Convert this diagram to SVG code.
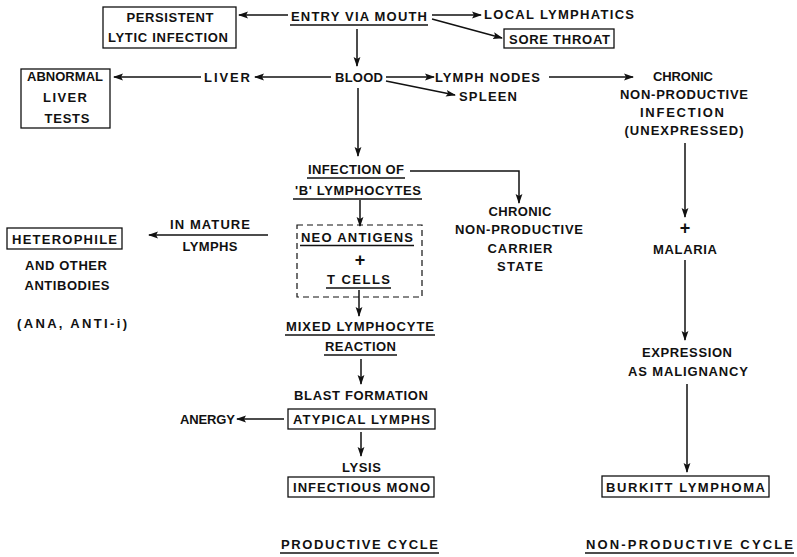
<svg xmlns="http://www.w3.org/2000/svg" width="797" height="557" viewBox="0 0 797 557">
<defs>
<marker id="ah" markerWidth="10" markerHeight="8" refX="9" refY="4" orient="auto" markerUnits="userSpaceOnUse">
<path d="M0,0.6 L10,4 L0,7.4 L2,4 Z" fill="#111"/>
</marker>
<style>
text{font-family:"Liberation Sans","DejaVu Sans",sans-serif;font-size:13px;font-weight:bold;fill:#111}
.c{text-anchor:middle}
text.p{font-size:18px}
.box{fill:none;stroke:#111;stroke-width:1.3}
.dash{fill:none;stroke:#111;stroke-width:1.2;stroke-dasharray:6,4}
.ul{stroke:#111;stroke-width:1.3}
.e{fill:none;stroke:#111;stroke-width:1.5;marker-end:url(#ah)}
</style>
</defs>
<rect width="797" height="557" fill="#fff"/>

<g id="connectors">
<line class="e" x1="288" y1="15" x2="239" y2="15"/>
<line class="e" x1="432" y1="15" x2="481" y2="15"/>
<line class="e" x1="432" y1="19" x2="502" y2="38"/>
<line class="e" x1="357" y1="29" x2="357" y2="66"/>
<line class="e" x1="331" y1="77" x2="255" y2="77"/>
<line class="e" x1="201" y1="77" x2="114" y2="77"/>
<line class="e" x1="386" y1="77" x2="434" y2="77"/>
<line class="e" x1="386" y1="81" x2="455" y2="95"/>
<line class="e" x1="549" y1="77" x2="633" y2="77"/>
<line class="e" x1="685" y1="143" x2="685" y2="217"/>
<line class="e" x1="685" y1="260" x2="685" y2="340"/>
<line class="e" x1="687" y1="384" x2="687" y2="472"/>
<line class="e" x1="358" y1="88" x2="358" y2="156"/>
<polyline class="e" points="410,171 519,171 519,203"/>
<line class="e" x1="360" y1="200" x2="360" y2="226"/>
<line class="e" x1="359" y1="290" x2="359" y2="316"/>
<line class="e" x1="268" y1="235" x2="149" y2="235"/>
<line class="e" x1="361" y1="359" x2="361" y2="384"/>
<line class="e" x1="284" y1="419" x2="237" y2="419"/>
<line class="e" x1="361" y1="432" x2="361" y2="456"/>
</g>

<g id="persistent">
<rect class="box" x="103" y="7" width="133" height="41"/>
<text class="c" x="170" y="22" textLength="87" lengthAdjust="spacing">PERSISTENT</text>
<text class="c" x="168" y="42" textLength="120" lengthAdjust="spacing">LYTIC INFECTION</text>
</g>
<g id="entry">
<text x="291" y="21" textLength="136" lengthAdjust="spacing">ENTRY VIA MOUTH</text>
<line class="ul" x1="290" y1="25" x2="428" y2="25"/>
</g>
<g id="local">
<text x="484" y="19" textLength="150" lengthAdjust="spacing">LOCAL LYMPHATICS</text>
</g>
<g id="sore">
<rect class="box" x="504" y="29" width="110" height="19"/>
<text x="509" y="44" textLength="101" lengthAdjust="spacing">SORE THROAT</text>
</g>
<g id="blood">
<text x="335" y="82" textLength="48" lengthAdjust="spacing">BLOOD</text>
</g>
<g id="liver">
<text x="204" y="82" textLength="46" lengthAdjust="spacing">LIVER</text>
</g>
<g id="abnormal">
<rect class="box" x="21" y="69" width="89" height="59"/>
<text class="c" x="65" y="81" textLength="76" lengthAdjust="spacing">ABNORMAL</text>
<text class="c" x="65" y="102" textLength="44" lengthAdjust="spacing">LIVER</text>
<text class="c" x="67" y="123" textLength="45" lengthAdjust="spacing">TESTS</text>
</g>
<g id="lymphnodes">
<text x="435" y="82" textLength="105" lengthAdjust="spacing">LYMPH NODES</text>
</g>
<g id="spleen">
<text x="459" y="101" textLength="58" lengthAdjust="spacing">SPLEEN</text>
</g>
<g id="chronic-infection">
<text class="c" x="683" y="81" textLength="60" lengthAdjust="spacing">CHRONIC</text>
<text class="c" x="684" y="99" textLength="128" lengthAdjust="spacing">NON-PRODUCTIVE</text>
<text class="c" x="682" y="117" textLength="84" lengthAdjust="spacing">INFECTION</text>
<text class="c" x="684" y="135" textLength="119" lengthAdjust="spacing">(UNEXPRESSED)</text>
</g>
<g id="malaria">
<text class="c p" x="685" y="234">+</text>
<text class="c" x="685" y="254" textLength="64" lengthAdjust="spacing">MALARIA</text>
</g>
<g id="expression">
<text class="c" x="687" y="357" textLength="90" lengthAdjust="spacing">EXPRESSION</text>
<text class="c" x="688" y="376" textLength="120" lengthAdjust="spacing">AS MALIGNANCY</text>
</g>
<g id="burkitt">
<rect class="box" x="602" y="476" width="167" height="21"/>
<text x="606" y="492" textLength="159" lengthAdjust="spacing">BURKITT LYMPHOMA</text>
</g>
<g id="nonproductive-cycle">
<text x="586" y="549" textLength="207" lengthAdjust="spacing">NON-PRODUCTIVE CYCLE</text>
<line class="ul" x1="585" y1="553" x2="794" y2="553"/>
</g>
<g id="infection-b">
<text x="308" y="174" textLength="96" lengthAdjust="spacing">INFECTION OF</text>
<line class="ul" x1="307" y1="178" x2="405" y2="178"/>
<text x="295" y="195" textLength="126" lengthAdjust="spacing">'B' LYMPHOCYTES</text>
<line class="ul" x1="293" y1="199" x2="422" y2="199"/>
</g>
<g id="carrier">
<text class="c" x="520" y="216" textLength="63" lengthAdjust="spacing">CHRONIC</text>
<text class="c" x="519" y="234" textLength="128" lengthAdjust="spacing">NON-PRODUCTIVE</text>
<text class="c" x="520" y="253" textLength="65" lengthAdjust="spacing">CARRIER</text>
<text class="c" x="520" y="271" textLength="46" lengthAdjust="spacing">STATE</text>
</g>
<g id="neo-tcells">
<rect class="dash" x="297" y="225" width="125" height="72"/>
<text x="301" y="242" textLength="112" lengthAdjust="spacing">NEO ANTIGENS</text>
<line class="ul" x1="300" y1="245.5" x2="414" y2="245.5"/>
<text class="c p" x="360" y="266">+</text>
<text x="327" y="284" textLength="63" lengthAdjust="spacing">T CELLS</text>
<line class="ul" x1="326" y1="288" x2="391" y2="288"/>
</g>
<g id="mixed">
<text x="286" y="331" textLength="148" lengthAdjust="spacing">MIXED LYMPHOCYTE</text>
<line class="ul" x1="285" y1="335" x2="435" y2="335"/>
<text x="325" y="351" textLength="71" lengthAdjust="spacing">REACTION</text>
<line class="ul" x1="324" y1="355" x2="397" y2="355"/>
</g>
<g id="blast">
<text x="294" y="400" textLength="134" lengthAdjust="spacing">BLAST FORMATION</text>
</g>
<g id="atypical">
<rect class="box" x="288" y="409" width="147" height="20"/>
<text x="293" y="424" textLength="137" lengthAdjust="spacing">ATYPICAL LYMPHS</text>
</g>
<g id="anergy">
<text x="180" y="424" textLength="55" lengthAdjust="spacing">ANERGY</text>
</g>
<g id="lysis">
<text x="342" y="472" textLength="39" lengthAdjust="spacing">LYSIS</text>
</g>
<g id="mono">
<rect class="box" x="288" y="477" width="146" height="20"/>
<text x="293" y="492" textLength="137" lengthAdjust="spacing">INFECTIOUS MONO</text>
</g>
<g id="productive-cycle">
<text x="281" y="549" textLength="157" lengthAdjust="spacing">PRODUCTIVE CYCLE</text>
<line class="ul" x1="280" y1="553" x2="439" y2="553"/>
</g>
<g id="inmature">
<text class="c" x="210" y="229" textLength="80" lengthAdjust="spacing">IN MATURE</text>
<text class="c" x="210" y="251" textLength="55" lengthAdjust="spacing">LYMPHS</text>
</g>
<g id="heterophile">
<rect class="box" x="7" y="228" width="115" height="21"/>
<text x="12" y="244" textLength="105" lengthAdjust="spacing">HETEROPHILE</text>
<text class="c" x="66" y="270" textLength="82" lengthAdjust="spacing">AND OTHER</text>
<text class="c" x="67" y="290" textLength="85" lengthAdjust="spacing">ANTIBODIES</text>
<text class="c" x="72" y="328" textLength="110" lengthAdjust="spacing">(ANA, ANTI-i)</text>
</g>
</svg>
